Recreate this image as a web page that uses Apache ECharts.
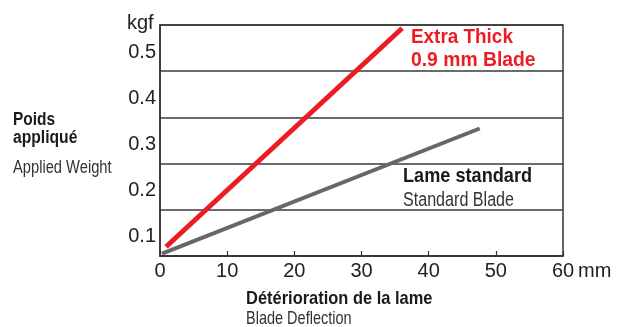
<!DOCTYPE html>
<html>
<head>
<meta charset="utf-8">
<script src="https://cdn.jsdelivr.net/npm/echarts@6/dist/echarts.min.js"></script>
<style>
  html, body { margin: 0; padding: 0; background: #fff; }
  #chart { width: 628px; height: 327px; }
</style>
</head>
<body>
<div id="chart"></div>
<script>
// Blade deflection (mm) vs applied weight (kgf)
const deflectionTicks = [0, 10, 20, 30, 40, 50, 60];
const weightTicks = [0.1, 0.2, 0.3, 0.4, 0.5];

const extraThickX = [0.9, 36.05];
const extraThickY = [0.07, 0.543];

const standardX = [0.3, 47.6];
const standardY = [0.055, 0.326];

const SANS = "'Liberation Sans', Arial, sans-serif";

const zip = (xs, ys) => xs.map((x, i) => [x, ys[i]]);

// condensed-looking caption text: regular sans squeezed horizontally
function caption(text, x, y, size, bold, color, squeeze) {
  return {
    type: 'text', x, y, scaleX: squeeze, scaleY: 1,
    style: {
      text,
      font: `${bold ? 'bold ' : ''}${size}px ${SANS}`,
      fill: color,
      textVerticalAlign: 'middle'
    }
  };
}

const chart = echarts.init(document.getElementById('chart'), null, { renderer: 'canvas' });

chart.setOption({
  animation: false,
  backgroundColor: '#ffffff',
  grid: {
    left: 160, right: 65, top: 25, bottom: 71,
    show: true, borderColor: '#333', borderWidth: 1.5, backgroundColor: 'transparent'
  },
  xAxis: {
    type: 'value',
    min: deflectionTicks[0],
    max: deflectionTicks[deflectionTicks.length - 1],
    interval: 10,
    axisLine: { show: true, lineStyle: { color: '#333', width: 1.5 } },
    axisTick: { show: true, inside: true, length: 5, lineStyle: { color: '#333', width: 1.2 } },
    splitLine: { show: false },
    axisLabel: {
      margin: 5,
      fontFamily: SANS, fontSize: 20, color: '#222',
      formatter: v => deflectionTicks.includes(v) ? String(v) : ''
    }
  },
  yAxis: [
    {
      // grid bands: lines every 0.1 between the labelled levels
      type: 'value', position: 'left', min: 0.05, max: 0.55, interval: 0.1,
      axisLine: { show: true, lineStyle: { color: '#333', width: 1.5 } },
      axisTick: { show: false },
      axisLabel: { show: false },
      splitLine: { show: true, lineStyle: { color: '#3a3a3a', width: 1.5 } }
    },
    {
      // weight labels
      type: 'value', position: 'left', offset: 0, min: 0.05, max: 0.55, interval: 0.05,
      axisLine: { show: false },
      axisTick: { show: false },
      splitLine: { show: false },
      axisLabel: {
        margin: 4,
        fontFamily: SANS, fontSize: 20, color: '#222',
        formatter: v => {
          const k = Math.round(v * 20);
          return (k % 2 === 0 && weightTicks.includes(k / 20)) ? '{w|' + (k / 20).toFixed(1) + '}' : '';
        },
        rich: {
          w: { fontFamily: SANS, fontSize: 20, color: '#222', padding: [8, 0, 0, 0] }
        }
      }
    }
  ],
  series: [
    {
      name: 'Standard Blade',
      type: 'line',
      yAxisIndex: 0,
      data: zip(standardX, standardY),
      showSymbol: false,
      lineStyle: { color: '#676767', width: 4, cap: 'butt' },
      z: 3
    },
    {
      name: 'Extra Thick 0.9 mm Blade',
      type: 'line',
      yAxisIndex: 0,
      data: zip(extraThickX, extraThickY),
      showSymbol: false,
      lineStyle: { color: '#ec1c24', width: 5, cap: 'butt' },
      z: 4
    }
  ],
  graphic: [
    { type: 'text', x: 127, y: 23, style: { text: 'kgf', font: `20px ${SANS}`, fill: '#222', textVerticalAlign: 'middle' } },
    { type: 'text', x: 578, y: 271, style: { text: 'mm', font: `20px ${SANS}`, fill: '#222', textVerticalAlign: 'middle' } },

    caption('Poids', 13, 120, 18, true, '#1a1a1a', 0.86),
    caption('appliqué', 13, 138, 18, true, '#1a1a1a', 0.87),
    caption('Applied Weight', 13, 168, 17.5, false, '#333', 0.84),

    caption('Extra Thick', 411, 37.5, 21, true, '#ec1c24', 0.9),
    caption('0.9 mm Blade', 411, 60, 21, true, '#ec1c24', 0.92),

    caption('Lame standard', 403, 176.5, 20.5, true, '#1a1a1a', 0.885),
    caption('Standard Blade', 403, 200, 20, false, '#333', 0.805),

    caption('Détérioration de la lame', 246, 299.5, 17.7, true, '#1a1a1a', 0.93),
    caption('Blade Deflection', 246, 319.5, 17.7, false, '#333', 0.82)
  ]
});
</script>
</body>
</html>
